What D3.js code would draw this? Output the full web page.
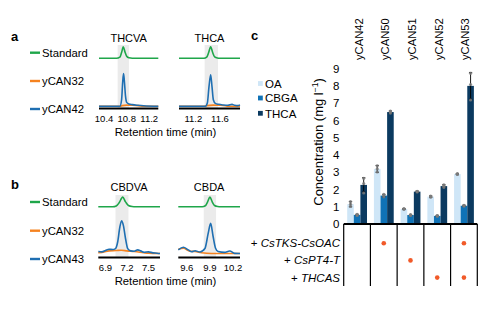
<!DOCTYPE html>
<html>
<head>
<meta charset="utf-8">
<script src="https://cdn.jsdelivr.net/npm/d3@7"></script>
<style>
  body { margin: 0; background: #fff; }
  svg { display: block; font-family: "Liberation Sans", Arial, sans-serif; }
</style>
</head>
<body>
<svg id="fig" width="494" height="321"></svg>
<script>
// ---- chromatograms (time in min, normalised intensity) ----
const traceNames = ["Standard", "yCAN32"]
const strainA = "yCAN42"
const strainB = "yCAN43"

const thcvaStd = [[10.31,0],[10.62,0],[10.68,0.1],[10.71,0.5],[10.74,1],[10.77,0.55],[10.8,0.18],[10.84,0.04],[10.9,0],[11.36,0]]
const thcvaNeg = [[10.31,0],[10.68,0],[10.72,0.02],[10.8,0.035],[10.9,0.03],[11.0,0.02],[11.1,0],[11.36,0]]
const thcvaHit = [[10.31,0],[10.68,0],[10.71,0.2],[10.73,0.75],[10.745,1],[10.76,0.75],[10.78,0.3],[10.8,0.12],[10.84,0.07],[10.9,0.05],[11.0,0.03],[11.1,0.015],[11.36,0]]

const thcaStd = [[10.985,0],[11.36,0],[11.4,0.1],[11.43,0.5],[11.46,1],[11.49,0.5],[11.52,0.12],[11.56,0.02],[11.6,0],[11.9,0]]
const thcaNeg = [[10.985,0],[11.35,0],[11.4,0.02],[11.5,0.035],[11.6,0.03],[11.68,0.015],[11.72,0],[11.9,0]]
const thcaHit = [[10.985,0],[11.38,0],[11.41,0.1],[11.435,0.6],[11.46,0.96],[11.48,0.6],[11.5,0.2],[11.53,0.09],[11.58,0.06],[11.65,0.04],[11.72,0.03],[11.78,0.06],[11.82,0.03],[11.86,0.02],[11.9,0.04]]

const cbdvaStd = [[6.8,0],[7.0,0],[7.05,0.08],[7.09,0.4],[7.14,1],[7.18,0.5],[7.22,0.12],[7.27,0.02],[7.32,0],[7.66,0]]
const cbdvaNeg = [[6.8,0.02],[6.88,0.05],[6.95,0.08],[7.05,0.09],[7.12,0.1],[7.2,0.08],[7.3,0.06],[7.38,0.04],[7.45,0.02],[7.5,0.01],[7.66,0]]
const cbdvaHit = [[6.8,0.06],[6.85,0.05],[6.9,0.09],[6.95,0.13],[7.0,0.12],[7.04,0.15],[7.07,0.35],[7.1,0.8],[7.125,1],[7.15,0.85],[7.18,0.45],[7.21,0.15],[7.25,0.08],[7.3,0.07],[7.35,0.11],[7.39,0.08],[7.44,0.04],[7.5,0.05],[7.56,0.02],[7.62,0.01],[7.66,0]]

const cbdaStd = [[9.49,0],[9.8,0],[9.84,0.1],[9.87,0.5],[9.9,1],[9.93,0.5],[9.96,0.12],[10.0,0.02],[10.04,0],[10.29,0]]
const cbdaNeg = [[9.49,0.13],[9.556,0.16],[9.64,0.07],[9.707,0.06],[9.79,0.025],[9.92,0],[10.05,0],[10.29,0]]
const cbdaHit = [[9.49,0.11],[9.556,0.19],[9.62,0.11],[9.664,0.055],[9.707,0.085],[9.77,0.045],[9.835,0.15],[9.878,0.62],[9.909,0.92],[9.942,0.51],[9.973,0.16],[10.006,0.06],[10.09,0.035],[10.157,0.075],[10.22,0.005],[10.29,0]]

// ---- panel c: titres (mg per l) ----
const strains = ["yCAN42", "yCAN50", "yCAN51", "yCAN52", "yCAN53"]
const compounds = ["OA", "CBGA", "THCA"]
const oaMean = [1.15, 3.2, 0.87, 1.59, 2.9]
const cbgaMean = [0.53, 1.65, 0.52, 0.47, 1.06]
const thcaMean = [2.27, 6.5, 1.88, 2.2, 8.02]
const oaSd = [0.15, 0.2, 0.03, 0.04, 0.03]
const cbgaSd = [0.03, 0.07, 0.03, 0.03, 0.03]
const thcaSd = [0.42, 0.06, 0.03, 0.08, 0.78]
const oaReps = [[1.02,1.15,1.3],[3.02,3.2,3.38],[0.85,0.87,0.9],[1.56,1.59,1.62],[2.88,2.9,2.92]]
const cbgaReps = [[0.5,0.53,0.56],[1.58,1.65,1.72],[0.5,0.52,0.54],[0.45,0.47,0.49],[1.04,1.06,1.08]]
const thcaReps = [[1.8,2.35,2.65],[6.44,6.5,6.56],[1.86,1.88,1.9],[2.13,2.2,2.27],[7.2,8.1,8.75]]
const yTicks = [0, 1, 2, 3, 4, 5, 6, 7, 8, 9]

const genes = ["CsTKS-CsOAC", "CsPT4-T", "THCAS"]
const hasTKS = [0, 1, 0, 0, 1]
const hasPT4 = [0, 0, 1, 0, 0]
const hasTHCAS = [0, 0, 0, 1, 1]

const GREEN = "#1fa64a", ORANGE = "#f5821f", BLUE = "#1f6fb2"
const barColors = { OA: "#cfe6f7", CBGA: "#0f72b6", THCA: "#0b3a60" }

const svg = d3.select("#fig")

function panelLetter(t, x, y) {
  svg.append("text").attr("x", x).attr("y", y).attr("font-size", 13)
    .attr("font-weight", "bold").text(t)
}

// one small chromatogram: standard on top, two strains stacked below
function chromatogram(o) {
  const x = d3.scaleLinear().domain(o.domain).range([o.x0, o.x1])
  const yStd = d3.scaleLinear().domain([0, 1]).range([o.stdBase, o.stdBase - o.stdH])
  const ySmp = d3.scaleLinear().domain([0, 1]).range([o.smpBase, o.smpBase - o.smpH])
  const g = svg.append("g")

  g.append("rect").attr("x", x(o.band[0])).attr("y", o.bandTop)
    .attr("width", x(o.band[1]) - x(o.band[0])).attr("height", o.axisY - o.bandTop)
    .attr("fill", "#ebebeb")

  const line = (ys) => d3.line().x(d => x(d[0])).y(d => ys(d[1])).curve(d3.curveMonotoneX)
  g.append("path").attr("d", line(yStd)(o.std)).attr("fill", "none")
    .attr("stroke", GREEN).attr("stroke-width", 1.6)
  g.append("path").attr("d", line(ySmp)(o.neg)).attr("fill", "none")
    .attr("stroke", ORANGE).attr("stroke-width", 1.6)
  g.append("path").attr("d", line(ySmp)(o.hit)).attr("fill", "none")
    .attr("stroke", BLUE).attr("stroke-width", 1.6)

  g.append("line").attr("x1", o.x0).attr("x2", o.x1).attr("y1", o.axisY).attr("y2", o.axisY)
    .attr("stroke", "#000").attr("stroke-width", 2.2)

  g.selectAll("text.tick").data(o.ticks).join("text").attr("class", "tick")
    .attr("x", d => x(d)).attr("y", o.axisY + 13).attr("text-anchor", "middle")
    .attr("font-size", 9.5).text(d => d.toFixed(1))

  g.append("text").attr("x", (o.x0 + o.x1) / 2).attr("y", o.titleY)
    .attr("text-anchor", "middle").attr("font-size", 11).text(o.title)
}

function traceLegend(names, ys) {
  const colors = [GREEN, ORANGE, BLUE]
  names.forEach((n, i) => {
    svg.append("line").attr("x1", 30).attr("x2", 40).attr("y1", ys[i]).attr("y2", ys[i])
      .attr("stroke", colors[i]).attr("stroke-width", 2.4)
    svg.append("text").attr("x", 42).attr("y", ys[i] + 4).attr("font-size", 11.3).text(n)
  })
}

// ---- panel a ----
panelLetter("a", 11, 41)
traceLegend([...traceNames, strainA], [52.7, 81, 109])
chromatogram({ title: "THCVA", domain: [10.31, 11.36], x0: 99, x1: 158.3, ticks: [10.4, 10.8, 11.2],
  band: [10.64, 10.84], bandTop: 45, axisY: 108.5, stdBase: 58.3, stdH: 11.5,
  smpBase: 106.3, smpH: 32.8, titleY: 42, std: thcvaStd, neg: thcvaNeg, hit: thcvaHit })
chromatogram({ title: "THCA", domain: [10.985, 11.9], x0: 179, x1: 240, ticks: [11.2, 11.6],
  band: [11.37, 11.57], bandTop: 45, axisY: 108.5, stdBase: 58.3, stdH: 11.5,
  smpBase: 106.3, smpH: 32.8, titleY: 42, std: thcaStd, neg: thcaNeg, hit: thcaHit })
svg.append("text").attr("x", 165.5).attr("y", 135.5).attr("text-anchor", "middle")
  .attr("font-size", 11.3).text("Retention time (min)")

// ---- panel b ----
panelLetter("b", 11, 189)
traceLegend([...traceNames, strainB], [202, 230.7, 259])
chromatogram({ title: "CBDVA", domain: [6.8, 7.66], x0: 98.3, x1: 160, ticks: [6.9, 7.2, 7.5],
  band: [7.04, 7.22], bandTop: 195, axisY: 257.5, stdBase: 206.7, stdH: 9.6,
  smpBase: 253.5, smpH: 32.8, titleY: 191, std: cbdvaStd, neg: cbdvaNeg, hit: cbdvaHit })
chromatogram({ title: "CBDA", domain: [9.49, 10.29], x0: 178.3, x1: 240, ticks: [9.6, 9.9, 10.2],
  band: [9.82, 9.98], bandTop: 195, axisY: 257.5, stdBase: 206.7, stdH: 9.6,
  smpBase: 253.5, smpH: 32.8, titleY: 191, std: cbdaStd, neg: cbdaNeg, hit: cbdaHit })
svg.append("text").attr("x", 165.5).attr("y", 284.5).attr("text-anchor", "middle")
  .attr("font-size", 11.3).text("Retention time (min)")

// ---- panel c ----
panelLetter("c", 251, 40)

const x = d3.scaleBand().domain(strains).range([343.7, 477.3]).padding(0)
const xc = d3.scaleBand().domain(compounds).range([3.5, 23.3]).padding(0)
const y = d3.scaleLinear().domain([0, 9]).range([224, 69])

const means = { OA: oaMean, CBGA: cbgaMean, THCA: thcaMean }
const sds = { OA: oaSd, CBGA: cbgaSd, THCA: thcaSd }
const reps = { OA: oaReps, CBGA: cbgaReps, THCA: thcaReps }
const bars = []
strains.forEach((s, i) => compounds.forEach(c => bars.push({
  strain: s, comp: c, v: means[c][i], sd: sds[c][i], reps: reps[c][i]
})))

const gBars = svg.append("g")
gBars.selectAll("rect").data(bars).join("rect")
  .attr("x", d => x(d.strain) + xc(d.comp)).attr("width", xc.bandwidth())
  .attr("y", d => y(d.v)).attr("height", d => y(0) - y(d.v))
  .attr("fill", d => barColors[d.comp])

const cx = d => x(d.strain) + xc(d.comp) + xc.bandwidth() / 2
gBars.selectAll("line.err").data(bars).join("line").attr("class", "err")
  .attr("x1", cx).attr("x2", cx)
  .attr("y1", d => y(d.v - d.sd)).attr("y2", d => y(d.v + d.sd))
  .attr("stroke", "#000").attr("stroke-width", 0.9)
gBars.selectAll("line.capHi").data(bars).join("line").attr("class", "capHi")
  .attr("x1", d => cx(d) - 1.6).attr("x2", d => cx(d) + 1.6)
  .attr("y1", d => y(d.v + d.sd)).attr("y2", d => y(d.v + d.sd))
  .attr("stroke", "#000").attr("stroke-width", 0.9)
gBars.selectAll("line.capLo").data(bars).join("line").attr("class", "capLo")
  .attr("x1", d => cx(d) - 1.6).attr("x2", d => cx(d) + 1.6)
  .attr("y1", d => y(d.v - d.sd)).attr("y2", d => y(d.v - d.sd))
  .attr("stroke", "#000").attr("stroke-width", 0.9)
const pts = bars.flatMap(b => b.reps.map(r => ({ b, r })))
gBars.selectAll("circle").data(pts).join("circle")
  .attr("cx", d => cx(d.b)).attr("cy", d => y(d.r)).attr("r", 1.6)
  .attr("fill", "#7a7a7a").attr("fill-opacity", 0.85)

// y tick labels, no axis line
svg.append("g").selectAll("text").data(yTicks).join("text")
  .attr("x", 339.5).attr("y", d => y(d) + 4).attr("text-anchor", "end")
  .attr("font-size", 11.5).text(d => d)

// y title with superscript
const yt = svg.append("text").attr("transform", "translate(323,142) rotate(-90)")
  .attr("text-anchor", "middle").attr("font-size", 13)
yt.append("tspan").text("Concentration (mg l")
yt.append("tspan").attr("font-size", 8.5).attr("dy", -5).text("\u22121")
yt.append("tspan").attr("dy", 5).text(")")

// strain names across the top
svg.append("g").selectAll("text").data(strains).join("text")
  .attr("transform", d => `translate(${x(d) + x.bandwidth() / 2 + 5.5},60) rotate(-90)`)
  .attr("font-size", 11.2).text(d => d)

// legend
compounds.forEach((c, i) => {
  const ly = [83.5, 98, 113.3][i]
  svg.append("rect").attr("x", 258).attr("y", ly - 2.4).attr("width", 4.8).attr("height", 4.8)
    .attr("fill", barColors[c])
  svg.append("text").attr("x", 265).attr("y", ly + 4.2).attr("font-size", 11.5).text(c)
})

// construct table under the bars
const rowY = d3.scaleBand().domain(genes).range([234.6, 286.2])
const table = svg.append("g")
table.append("line").attr("x1", 343.7).attr("x2", 477.3).attr("y1", 224).attr("y2", 224)
  .attr("stroke", "#000").attr("stroke-width", 1.8)
table.selectAll("line.div").data(strains.map(s => x(s)).concat([x.range()[1]])).join("line")
  .attr("class", "div").attr("x1", d => d).attr("x2", d => d).attr("y1", 224).attr("y2", 286)
  .attr("stroke", "#000").attr("stroke-width", 1.2)

genes.forEach(gn => {
  const t = table.append("text").attr("x", 340).attr("y", rowY(gn) + rowY.bandwidth() / 2 + 4)
    .attr("text-anchor", "end").attr("font-size", 11.5)
  t.append("tspan").text("+ ")
  t.append("tspan").attr("font-style", "italic").text(gn)
})

const marks = { "CsTKS-CsOAC": hasTKS, "CsPT4-T": hasPT4, "THCAS": hasTHCAS }
const dots = []
genes.forEach(gn => strains.forEach((s, i) => { if (marks[gn][i]) dots.push({ gn, s }) }))
table.selectAll("circle").data(dots).join("circle")
  .attr("cx", d => x(d.s) + x.bandwidth() / 2).attr("cy", d => rowY(d.gn) + rowY.bandwidth() / 2)
  .attr("r", 2.3).attr("fill", "#f15a29")
</script>
</body>
</html>
